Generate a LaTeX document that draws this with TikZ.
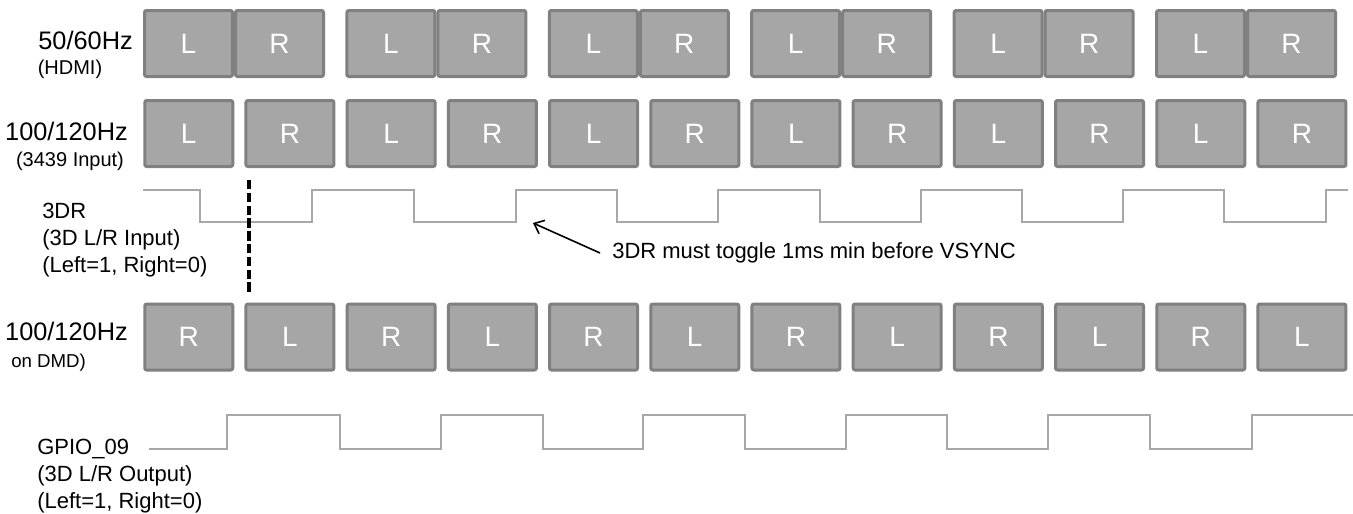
\documentclass[tikz,border=0pt]{standalone}
\usepackage{fontspec}
\setmainfont{Liberation Sans}
\usetikzlibrary{arrows.meta}
\definecolor{boxfill}{HTML}{A6A6A6}
\definecolor{boxline}{HTML}{808080}
\definecolor{wavecol}{HTML}{A8A8A8}
\tikzset{
  frame/.style={draw=boxline, fill=boxfill, line width=2.25pt, rounded corners=1.5pt,
    minimum width=66pt, minimum height=49.5pt, inner sep=0pt, text=white,
    font=\fontsize{21}{21}\selectfont},
  wave/.style={draw=wavecol, line width=1.5pt},
  lbl/.style={inner sep=0pt, align=left},
  big/.style={font=\fontsize{19}{22}\selectfont},
  small/.style={font=\fontsize{15}{18}\selectfont},
  body/.style={font=\fontsize{16.5}{20.4}\selectfont},
  marker/.style={line width=3.4pt, dash pattern=on 7pt off 2.6pt},
  pointer/.style={line width=1.2pt, -{Straight Barb[length=6.5pt,width=11pt]}},
}
\begin{document}
\begin{tikzpicture}[x=0.75pt,y=-0.75pt]
\useasboundingbox (0,0) rectangle (1353,514);

% row 1: 50/60Hz pairs
\foreach \j in {0,...,5} {
  \node[frame] (hl\j) at ({188.5+202.4*\j},43.5) {L};
  \node[frame] (hr\j) at ({279.5+202.4*\j},43.5) {R};
}
% row 2: 100/120Hz input
\foreach \k in {0,...,11} {
  \node[frame] (in\k) at ({188.75+101.2*\k},133.5) {\ifodd\k\relax R\else L\fi};
}
% row 4: 100/120Hz on DMD
\foreach \k in {0,...,11} {
  \node[frame] (dm\k) at ({188.75+101.2*\k},337) {\ifodd\k\relax L\else R\fi};
}

% labels
\node[lbl, big, anchor=east] (f1) at (133,40) {50/60Hz};
\node[lbl, small] (f1s) at (70,69) {(HDMI)};
\node[lbl, big, anchor=east] (f2) at (128,131.5) {100/120Hz};
\node[lbl, small] (f2s) at (70,161) {(3439 Input)};
\node[lbl, big, anchor=east] (f4) at (128,331) {100/120Hz};
\node[lbl, font=\fontsize{14}{17}\selectfont, anchor=west] (f4s) at (11,363) {on DMD)};
\node[lbl, body, anchor=west] (r3) at (42,240) {3DR\\(3D L/R Input)\\(Left=1, Right=0)};
\node[lbl, body, anchor=west] (gp) at (37,476) {GPIO\_09\\(3D L/R Output)\\(Left=1, Right=0)};

% 3DR waveform
\draw[wave] (143,190) -| (200,222) -| (312,190) -| (414,222) -| (516,190)
  -| (617,222) -| (718,190) -| (820,222) -| (921,190) -| (1022,222)
  -| (1123,190) -| (1224,222) -| (1326,190) -- (1348,190);

% GPIO waveform
\draw[wave] (149,449) -| (227,415) -| (340,449) -| (441,415) -| (543,449)
  -| (643,415) -| (745,449) -| (846,415) -| (947,449) -| (1048,415)
  -| (1150,449) -| (1252,415) -- (1353,415);

% dashed marker
\coordinate (dtop) at (249,180);
\coordinate (dbot) at (249,292);
\draw[marker] (dtop) -- (dbot);

% note and arrow
\node[lbl, body, anchor=west] (note) at (612,253) {3DR must toggle 1ms min before VSYNC};
\coordinate (tip) at (533,223);
\draw[pointer] ([xshift=-9pt]note.west) -- (tip);
\end{tikzpicture}
\end{document}
